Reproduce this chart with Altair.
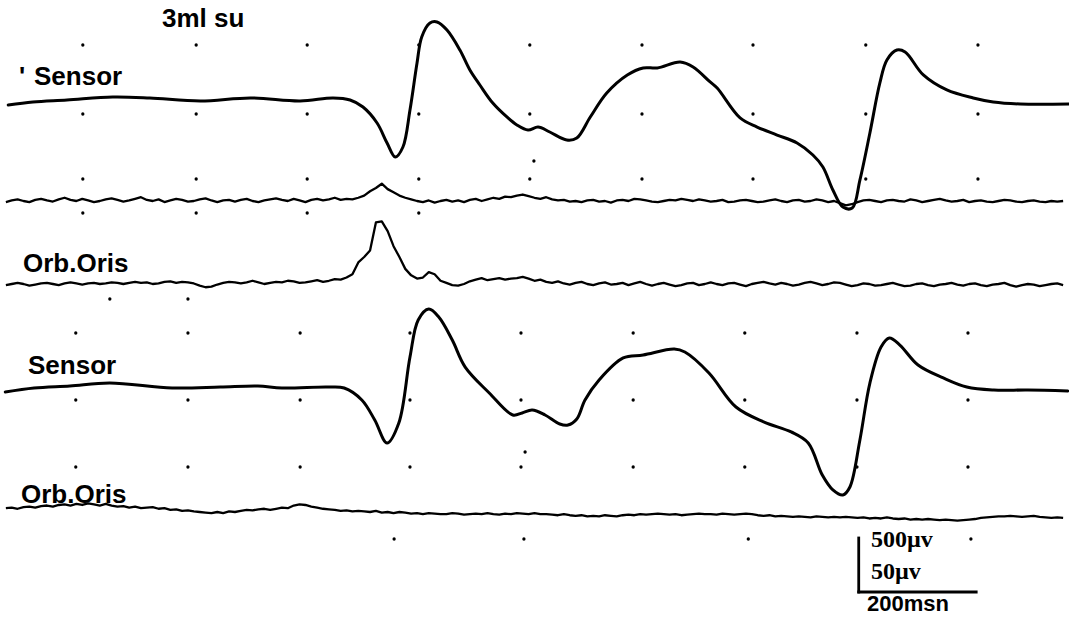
import altair as alt
import pandas as pd

# ---------------- data (time in ms, amplitude in microvolts) ----------------
T_MAX = 1820          # ms shown across the record
EMG_T0 = 10           # first EMG sample (ms)
EMG_DT = 10           # EMG sample period (ms)

# Sensor, record 1 (3 ml water) - knots
sensor1_t = [14, 56, 114, 192, 255, 341, 426, 511, 567, 596, 618, 642, 659, 673, 686, 698, 710, 718,
             732, 744, 761, 783, 800, 817, 839, 863, 880, 899, 916, 936, 965, 982, 1005, 1033, 1068,
             1095, 1119, 1158, 1180, 1209, 1221, 1260, 1289, 1323, 1357, 1384, 1401, 1418, 1435, 1451,
             1464, 1481, 1498, 1510, 1527, 1541, 1572, 1612, 1657, 1691, 1737, 1820]
sensor1_uv = [-37, -9, 9, 37, 28, 0, 28, 0, 28, 9, -56, -204, -389, -519, -426, -83, 352, 593,
              722, 732, 657, 472, 287, 148, -19, -148, -222, -269, -241, -287, -361, -343, -148, 74, 241,
              306, 306, 361, 315, 176, 120, -157, -241, -315, -389, -500, -611, -824, -982, -991,
              -732, -296, 167, 380, 472, 454, 241, 102, 28, -9, -28, -28]

# Orb. Oris EMG, record 1 (upper, quiet channel), 10 ms samples
emg1_uv = [-1, 0.5, 1.5, 0, -1, 1, 2, 0.5, -0.5, 1.5, 3, 1, 0, 2, 0.5, -1, 0, 1.5, 2.5, 1,
           -0.5, 0.5, 2, 3.5, 1, 0, 1.5, -1, 0.5, 2, 1, -0.5, 0, 1.5, 2.5, 0.5, -1, 0.5, 1, -0.5,
           1, 2, 0, -1, 0.5, 1.5, 2.5, 1, 0, 2, 0.5, -1, 1, 2, 0.5, 1.5, 3, 1, 2, 1.5,
           3, 5, 9, 12, 16, 11, 8, 5, 3, 1.5, 0, -1, 0.5, -1.5, 0, 1, -0.5, 0.5, -1, 1,
           2, 0, 1.5, 3, 2, 4, 3.5, 5, 6, 4.5, 3, 2, 3.5, 1.5, 0.5, 1, -0.5, 0, -1, 0.5,
           1, -0.5, 0, -1.5, 0.5, 1, 0, 2, 1.5, 0.5, -0.5, -1, 0, 1, 0.5, 2, 1, 0, 1.5, 0.5,
           -0.5, 0, 1, -1, -0.5, 0.5, 1, 0, -1, -0.5, 0.5, 1.5, 0, -1, 0.5, 1, -0.5, 0, 1.5, 0.5,
           -1, 0, -2, -4, -3, -1, 0.5, 1, 0, -1, 0.5, 1, 0, -0.5, 1.5, 0.5, -1, 0, 1, 2,
           0.5, -0.5, 0, 1, -1, 0, 0.5, -0.5, -1, 0, 1, 0.5, -0.5, -1, 0, 0.5, -0.5, -1, 0, -0.5, 0]

# Orb. Oris EMG, record 1 (burst channel), 10 ms samples
orb1_uv = [-1, 0, 1, 0, -1.5, -0.5, 0.5, 1, 0, -1, 0.5, 1.5, 0.5, -0.5, 0.5, 1, 0, 0.5, 1.5, 1,
           0, 1, 2, 1, 1.5, 0, 0.5, 2, 2.5, 1, 2, 1.5, 0.5, -1.5, -3, -2.5, -0.5, 1, 2, 1.5,
           0.5, 1.5, 3, 1.5, 0, 1, 2, 1.5, 3, 2.5, 1, 1.5, 2.5, 3.5, 2, 3, 4.5, 4, 6, 9,
           20, 25, 31, 57, 58, 49, 35, 25, 14, 8, 5, 6, 11, 9, 3, 1, -1, -1.5, 0, 2.5,
           4, 5.5, 3.5, 4.5, 5.5, 4, 5, 5.5, 6.5, 5, 3, 4, 2, 1, 2.5, 0.5, -0.5, 1, 2, 0,
           -1, 0.5, 1.5, -0.5, 0, 1, -1, 0.5, 2, 0, -1.5, 0, 1, -0.5, -2, -1, 0.5, 1, -1, 0,
           1.5, 0, -1, 0.5, 1, -0.5, -2, 0, 1, 2, 0.5, -0.5, 1, 0, -1.5, -0.5, 1, 2, 0.5, -1,
           0, 1.5, 1, -0.5, -2, -1, 0.5, 0, -1.5, -1, 0, 1, -0.5, -2, -1.5, 0, 0.5, -1, -2, -0.5,
           0, 1, -0.5, -1.5, 0, 0.5, -1, -2, -0.5, 0, 1, -1, -2.5, -1, 0, -0.5, -2, -1, 0, 0.5, -1]

# Sensor, record 2
sensor2_t = [9, 58, 119, 187, 293, 375, 439, 480, 557, 586, 616, 638, 659, 679, 698, 712, 730, 747,
             770, 792, 833, 873, 889, 906, 928, 953, 967, 982, 996, 1020, 1061, 1095, 1148, 1166, 1207,
             1253, 1301, 1347, 1376, 1400, 1418, 1435, 1447, 1464, 1481, 1500, 1514, 1532, 1563,
             1606, 1646, 1692, 1750, 1818]
sensor2_uv = [-37, 0, 19, 46, 0, 9, 19, 0, 9, 0, -111, -296, -509, -324, 287, 630, 731, 657,
              444, 194, -46, -250, -231, -204, -250, -333, -343, -287, -111, 74, 278, 306, 361, 333, 139,
              -176, -315, -407, -509, -806, -944, -991, -917, -481, 46, 380, 463, 398, 213,
              93, 9, -19, -19, -28]

# Orb. Oris EMG, record 2, 10 ms samples
orb2_uv = [3.5, 4, 3, 4.5, 5, 4, 5.5, 6, 5, 6.5, 7, 6, 7.5, 6.5, 8, 7, 6, 7.5, 6, 5,
           5.5, 4, 5, 3.5, 4, 4.5, 3, 3.5, 2, 2.5, 1, 1.5, 0.5, 0, -0.5, -1, 0, -1, 0.5, 0,
           1, 2, 1.5, 2.5, 3, 2, 3, 4, 3.5, 6, 7, 6.5, 5, 4, 3, 2.5, 2, 1, 1.5, 0.5,
           1, 0.5, 0, 1, -0.5, 0, -1, 0, -0.5, -1.5, -1, -2, -1, -1.5, -2, -2, -1, -1.5, -2.5, -2,
           -1.5, -2, -1, -2, -2.5, -1.5, -2, -1, -1.5, -2, -1, -2, -2, -2.5, -3, -2, -3, -3.5, -3, -4,
           -3.5, -4, -3, -3.5, -4, -3, -2.5, -3, -2, -2.5, -2, -1.5, -2, -2.5, -2, -3, -2.5, -2, -1.5, -2,
           -2, -2.5, -1.5, -2, -2.5, -2, -1.5, -2, -3, -3.5, -3, -4, -3.5, -4, -4.5, -4, -4.5, -5, -4, -4.5,
           -5, -4.5, -5, -4.5, -5, -5.5, -5, -6, -5.5, -6, -5, -6, -6.5, -6, -7, -6.5, -7, -6.5, -7, -7.5,
           -7, -7.5, -8, -7.5, -7, -6.5, -5.5, -5, -4.5, -4, -4, -3.5, -4, -4.5, -4, -3.5, -4.5, -5, -5.5, -5, -5.5]

# recorder time-grid dots (ms)
grid_t_upper = [141, 334, 523, 713, 902, 1093, 1282, 1474, 1665]
grid_t_lower = [129, 320, 511, 698, 887, 1078, 1268, 1459, 1648]
grid_t_bottom = [671, 892, 1274, 1653]
grid_t_stray = [187, 320, 909, 894]

# calibration bar
BAR_MS = 200
BAR_UV = 500
BAR_T0 = 1462

# ---------------- layout (pixels of the 627 px tall page) ----------------
W, H = 1069, 627
SENSOR_UV_PER_PX = 500 / 54
EMG_UV_PER_PX = 50 / 54
BASE = {"sensor1": 101, "emg1": 201, "orb1": 284, "sensor2": 388, "orb2": 512}
UPPER_ROWS = [45, 114, 179]
LOWER_ROWS = [333, 400, 467]
ROW_UPPER_SHORT = 213
ROW_BOTTOM = 539
STRAY_ROWS = [299, 299, 161, 452]
BAR_BOTTOM = 592


def trace(name, t, uv, gain, width):
    return pd.DataFrame({
        "t": t,
        "pos": [BASE[name] - v / gain for v in uv],
        "trace": name,
        "sw": width,
    })


def emg_times(values):
    return [EMG_T0 + EMG_DT * i for i in range(len(values))]


sensors = pd.concat([
    trace("sensor1", sensor1_t, sensor1_uv, SENSOR_UV_PER_PX, 3.0),
    trace("sensor2", sensor2_t, sensor2_uv, SENSOR_UV_PER_PX, 3.0),
])
emgs = pd.concat([
    trace("emg1", emg_times(emg1_uv), emg1_uv, EMG_UV_PER_PX, 2.3),
    trace("orb1", emg_times(orb1_uv), orb1_uv, EMG_UV_PER_PX, 2.3),
    trace("orb2", emg_times(orb2_uv), orb2_uv, EMG_UV_PER_PX, 2.3),
])

dots_rows = []
for r in UPPER_ROWS:
    dots_rows += [{"t": t, "pos": r} for t in grid_t_upper]
dots_rows += [{"t": t, "pos": ROW_UPPER_SHORT} for t in grid_t_upper[:4]]
for r in LOWER_ROWS:
    dots_rows += [{"t": t, "pos": r} for t in grid_t_lower]
dots_rows += [{"t": t, "pos": ROW_BOTTOM} for t in grid_t_bottom]
dots_rows += [{"t": t, "pos": p} for t, p in zip(grid_t_stray, STRAY_ROWS)]
dots = pd.DataFrame(dots_rows)

bar_top = BAR_BOTTOM - BAR_UV / SENSOR_UV_PER_PX
bars = pd.DataFrame({
    "t": [BAR_T0, BAR_T0],
    "t2": [BAR_T0, BAR_T0 + BAR_MS],
    "p": [BAR_BOTTOM, BAR_BOTTOM],
    "p2": [bar_top, BAR_BOTTOM],
})

xs = alt.Scale(domain=[0, T_MAX], nice=False, zero=False)
ys = alt.Scale(domain=[H, 0], nice=False, zero=False)

sensor_layer = alt.Chart(sensors).mark_line(
    color="black", interpolate="catmull-rom", strokeJoin="round", strokeCap="round"
).encode(
    x=alt.X("t:Q", scale=xs, axis=None),
    y=alt.Y("pos:Q", scale=ys, axis=None),
    detail="trace:N",
    order="t:Q",
    strokeWidth=alt.StrokeWidth("sw:Q", scale=None),
)

emg_layer = alt.Chart(emgs).mark_line(
    color="black", interpolate="linear", strokeJoin="round"
).encode(
    x=alt.X("t:Q", scale=xs, axis=None),
    y=alt.Y("pos:Q", scale=ys, axis=None),
    detail="trace:N",
    order="t:Q",
    strokeWidth=alt.StrokeWidth("sw:Q", scale=None),
)

dot_layer = alt.Chart(dots).mark_circle(color="black", size=11, opacity=1).encode(
    x=alt.X("t:Q", scale=xs, axis=None),
    y=alt.Y("pos:Q", scale=ys, axis=None),
)

bar_layer = alt.Chart(bars).mark_rule(color="black", strokeWidth=2.8, strokeCap="square").encode(
    x=alt.X("t:Q", scale=xs, axis=None),
    x2="t2:Q",
    y=alt.Y("p:Q", scale=ys, axis=None),
    y2="p2:Q",
)

one = pd.DataFrame({"k": [0]})


def label(text, x, y, size, font="Liberation Sans", weight="bold"):
    return alt.Chart(one).mark_text(
        align="left", baseline="alphabetic", font=font, fontSize=size,
        fontWeight=weight, color="black",
    ).encode(x=alt.value(x), y=alt.value(y), text=alt.value(text))


texts = [
    label("3ml su", 162, 27, 26),
    label("'", 19, 85, 26),
    label("Sensor", 34, 85, 26),
    label("Orb.Oris", 23, 272, 26),
    label("Sensor", 28, 374, 26),
    label("Orb.Oris", 21, 503, 26),
    label("500\u00b5v", 871, 547, 24, font="Liberation Serif", weight="bold"),
    label("50\u00b5v", 871, 579, 24, font="Liberation Serif", weight="bold"),
    label("200msn", 867, 611, 22),
]

chart = alt.layer(dot_layer, emg_layer, sensor_layer, bar_layer, *texts).properties(
    width=W, height=H, padding=0,
    autosize=alt.AutoSizeParams(type="none"),
    background="white",
).configure_view(stroke=None)

chart.save("out.html", embed_options={"renderer": "svg", "actions": False})
